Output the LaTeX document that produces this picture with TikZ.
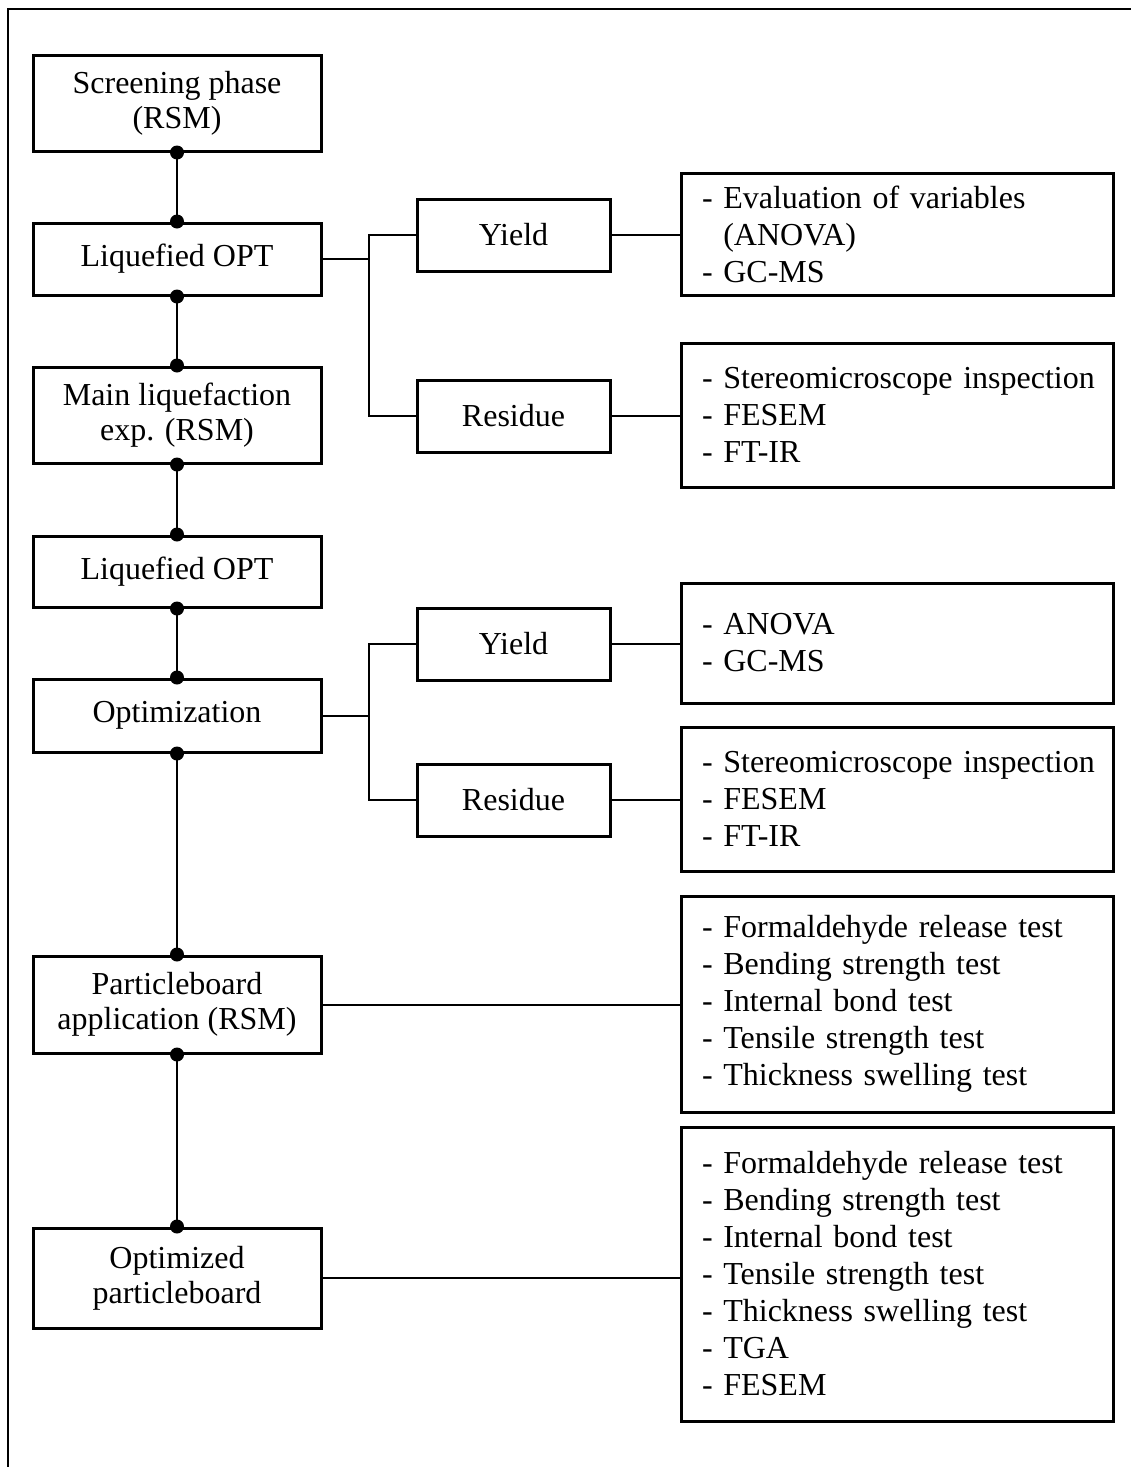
\documentclass[tikz,border=0pt]{standalone}
\usepackage{fontspec}
\setmainfont{Liberation Serif}
\usetikzlibrary{calc}
\tikzset{
    stagebox/.style={draw, line width=1.5pt, minimum width=144pt, align=center,
        font=\fontsize{16}{17.5}\selectfont},
    outcomebox/.style={draw, line width=1.5pt, minimum width=96.5pt,
        minimum height=36pt, font=\fontsize{16}{17.5}\selectfont},
    listbox/.style={draw, line width=1.5pt, text width=195pt, inner xsep=10.5pt,
        align=left, font=\fontsize{16}{18.5}\selectfont},
    link/.style={line width=1pt},
}

\begin{document}
\begin{tikzpicture}[x=0.5pt, y=-0.5pt]
    \useasboundingbox (0, 0) rectangle (1131, 1467);
    \draw[line width=1pt] (8, 1467) -- (8, 9) -- (1131, 9);
    % main column
    \node[stagebox, minimum height=48pt] (screen) at (177, 103)
        {Screening phase\\(RSM)};
    \node[stagebox, minimum height=36pt] (liqA) at (177, 259) {Liquefied OPT};
    \node[stagebox, minimum height=48pt] (mainexp) at (177, 415)
        {Main liquefaction\\exp. (RSM)};
    \node[stagebox, minimum height=35.5pt] (liqB) at (177, 571.5) {Liquefied OPT};
    \node[stagebox, minimum height=36.5pt] (optim) at (177, 715.5) {Optimization};
    \node[stagebox, minimum height=48.5pt] (pboard) at (177, 1004.5)
        {Particleboard\\application (RSM)};
    \node[stagebox, minimum height=50pt] (optpb) at (177, 1278)
        {Optimized\\particleboard};
    % outcomes
    \node[outcomebox] (yieldA) at (513.5, 235) {Yield};
    \node[outcomebox] (residA) at (513.5, 416) {Residue};
    \node[outcomebox] (yieldB) at (513.5, 644) {Yield};
    \node[outcomebox] (residB) at (513.5, 800) {Residue};
    % analyses
    \node[listbox, minimum height=61pt] (evalA) at (897, 234)
        {- Evaluation of variables\\\phantom{- }(ANOVA)\\- GC-MS};
    \node[listbox, minimum height=72pt] (surfA) at (897, 415)
        {\mbox{- Stereomicroscope inspection}\\- FESEM\\- FT-IR};
    \node[listbox, minimum height=60pt] (evalB) at (897, 643)
        {- ANOVA\\- GC-MS};
    \node[listbox, minimum height=72pt] (surfB) at (897, 799)
        {\mbox{- Stereomicroscope inspection}\\- FESEM\\- FT-IR};
    \node[listbox, minimum height=108pt] (testsA) at (897, 1004)
        {- Formaldehyde release test\\- Bending strength test\\
         - Internal bond test\\- Tensile strength test\\
         - Thickness swelling test};
    \node[listbox, minimum height=147pt] (testsB) at (897, 1274)
        {- Formaldehyde release test\\- Bending strength test\\
         - Internal bond test\\- Tensile strength test\\
         - Thickness swelling test\\- TGA\\- FESEM};
    \coordinate (brA) at (369, 259);
    \coordinate (brB) at (369, 715.5);
    \draw[link] (liqA.east) -- (brA);
    \draw[link] (yieldA.west) -| (brA) |- (residA.west);
    \draw[link] (optim.east) -- (brB);
    \draw[link] (yieldB.west) -| (brB) |- (residB.west);
    \foreach \a/\b in {yieldA/evalA, residA/surfA, yieldB/evalB, residB/surfB,
        pboard/testsA, optpb/testsB} {
        \draw[link] (\a.east) -- (\a.east -| \b.west);
    }
    \foreach \a/\b in {screen/liqA, liqA/mainexp, mainexp/liqB, liqB/optim,
        optim/pboard, pboard/optpb} {
        \draw[link] (\a.south) -- (\b.north);
        \fill (\a.south) circle (3.5pt) (\b.north) circle (3.5pt);
    }
\end{tikzpicture}
\end{document}
